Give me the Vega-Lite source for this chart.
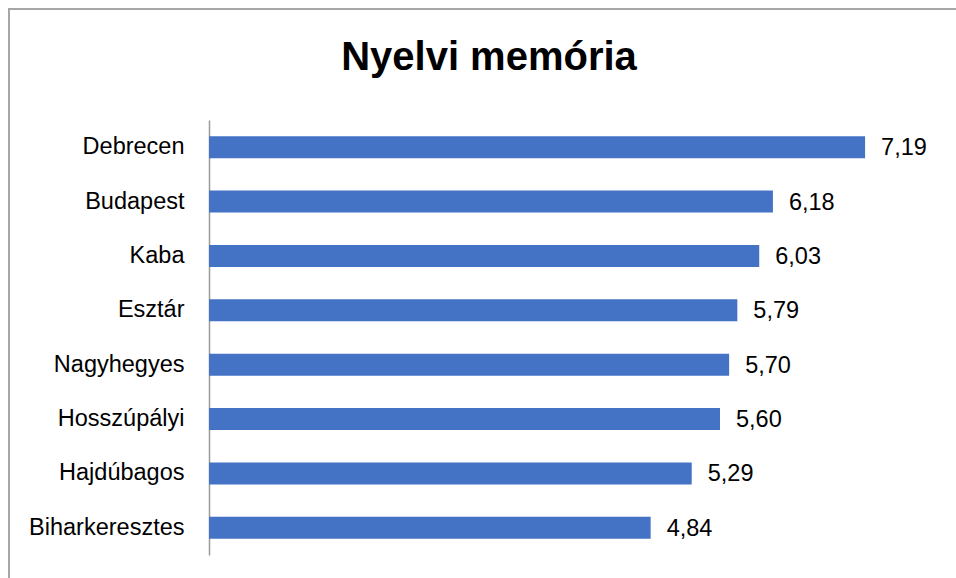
{
  "$schema": "https://vega.github.io/schema/vega-lite/v6.json",
  "autosize": "none",
  "padding": {"left": 9, "top": 9, "right": 0, "bottom": 0},
  "width": 960,
  "height": 580,
  "background": "white",
  "title": {
    "text": "Nyelvi memória",
    "anchor": "middle",
    "frame": "group",
    "baseline": "alphabetic",
    "offset": -61,
    "dy": 40,
    "font": "Liberation Sans",
    "fontSize": 40,
    "fontWeight": "bold",
    "color": "#000000"
  },
  "config": {
    "view": {"stroke": "#a6a6a6", "strokeWidth": 2},
    "locale": {"number": {"decimal": ",", "thousands": ".", "grouping": [3], "currency": ["", ""]}}
  },
  "data": {
    "values": [
      {"telepules": "Debrecen", "ertek": 7.19},
      {"telepules": "Budapest", "ertek": 6.18},
      {"telepules": "Kaba", "ertek": 6.03},
      {"telepules": "Esztár", "ertek": 5.79},
      {"telepules": "Nagyhegyes", "ertek": 5.70},
      {"telepules": "Hosszúpályi", "ertek": 5.60},
      {"telepules": "Hajdúbagos", "ertek": 5.29},
      {"telepules": "Biharkeresztes", "ertek": 4.84}
    ]
  },
  "encoding": {
    "y": {
      "field": "telepules",
      "type": "nominal",
      "sort": null,
      "scale": {"range": [111, 546], "paddingInner": 0, "paddingOuter": 0},
      "axis": {
        "title": null,
        "offset": -200,
        "ticks": false,
        "labelPadding": 25,
        "labelFont": "Liberation Sans",
        "labelFontSize": 23.5,
        "labelColor": "#000000",
        "domainColor": "#9a9a9a",
        "domainWidth": 1.5
      }
    },
    "x": {
      "field": "ertek",
      "type": "quantitative",
      "scale": {"domain": [0, 8], "range": [200, 930], "nice": false, "zero": true},
      "axis": null
    }
  },
  "layer": [
    {"mark": {"type": "bar", "color": "#4472C4", "height": 22}},
    {
      "mark": {
        "type": "text",
        "align": "left",
        "baseline": "middle",
        "dx": 16,
        "dy": 1,
        "font": "Liberation Sans",
        "fontSize": 23.5,
        "color": "#000000"
      },
      "encoding": {"text": {"field": "ertek", "type": "quantitative", "format": ".2f"}}
    }
  ]
}
